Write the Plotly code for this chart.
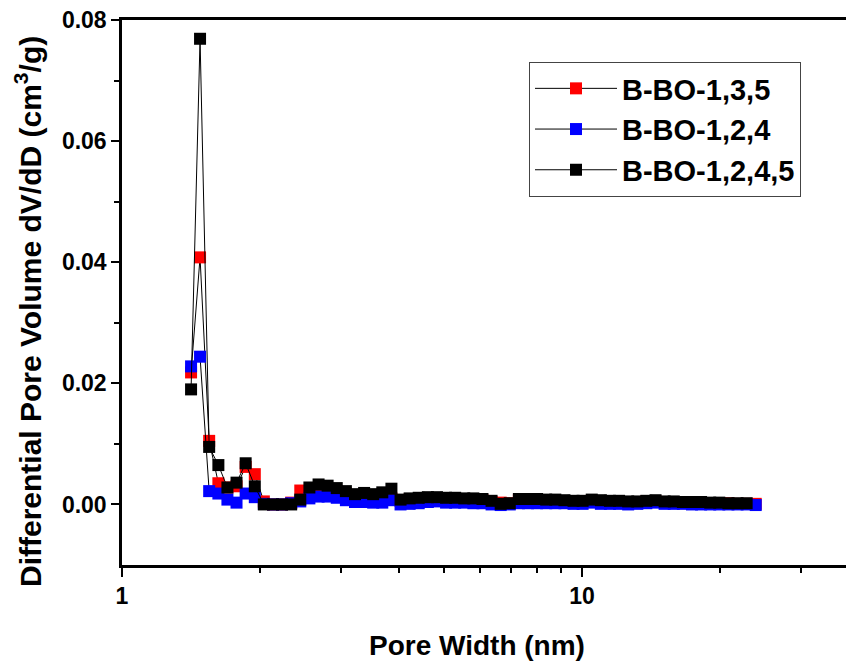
import plotly.graph_objects as go

# Pore width (nm)
pore_width = [1.413, 1.478, 1.547, 1.620, 1.695, 1.774, 1.857, 1.944, 2.034, 2.129,
              2.228, 2.332, 2.441, 2.555, 2.675, 2.799, 2.930, 3.067, 3.210, 3.360,
              3.516, 3.680, 3.852, 4.032, 4.220, 4.416, 4.623, 4.838, 5.064, 5.300,
              5.546, 5.805, 6.076, 6.359, 6.656, 6.966, 7.291, 7.631, 7.987, 8.359,
              8.750, 9.158, 9.585, 10.03, 10.50, 10.99, 11.50, 12.04, 12.60, 13.19,
              13.80, 14.45, 15.12, 15.83, 16.57, 17.34, 18.15, 19.00, 19.88, 20.81,
              21.78, 22.80, 23.86]

bbo_135 = [0.0218, 0.0408, 0.0105, 0.0035, 0.0028, 0.0030, 0.0062, 0.0050, 0.0005, 0.0000,
           0.0000, 0.0003, 0.0023, 0.0020, 0.0025, 0.0025, 0.0022, 0.0018, 0.0014, 0.0015,
           0.0014, 0.0016, 0.0010, 0.0006, 0.0008, 0.0009, 0.0010, 0.0010, 0.0009, 0.0009,
           0.0008, 0.0008, 0.0007, 0.0004, 0.0003, 0.0002, 0.0007, 0.0007, 0.0007, 0.0006,
           0.0006, 0.0005, 0.0005, 0.0005, 0.0006, 0.0005, 0.0005, 0.0004, 0.0004, 0.0004,
           0.0005, 0.0005, 0.0004, 0.0004, 0.0003, 0.0003, 0.0003, 0.0002, 0.0002, 0.0002,
           0.0001, 0.0001, 0.0001]

bbo_124 = [0.0228, 0.0244, 0.0022, 0.0018, 0.0008, 0.0003, 0.0018, 0.0012, 0.0001, 0.0000,
           0.0000, 0.0002, 0.0005, 0.0010, 0.0013, 0.0013, 0.0011, 0.0007, 0.0004, 0.0004,
           0.0003, 0.0003, 0.0007, 0.0000, 0.0001, 0.0002, 0.0004, 0.0005, 0.0003, 0.0003,
           0.0003, 0.0002, 0.0002, 0.0000, -0.0001, 0.0000, 0.0002, 0.0002, 0.0002, 0.0002,
           0.0002, 0.0002, 0.0001, 0.0001, 0.0003, 0.0001, 0.0001, 0.0001, 0.0000, 0.0001,
           0.0002, 0.0003, 0.0001, 0.0001, 0.0001, 0.0000, 0.0000, 0.0000, 0.0000, 0.0000,
           0.0000, 0.0000, -0.0001]

bbo_1245 = [0.0190, 0.0769, 0.0095, 0.0065, 0.0028, 0.0036, 0.0068, 0.0030, 0.0000, 0.0000,
            0.0000, 0.0000, 0.0008, 0.0028, 0.0033, 0.0031, 0.0027, 0.0022, 0.0017, 0.0019,
            0.0017, 0.0020, 0.0026, 0.0008, 0.0010, 0.0011, 0.0012, 0.0012, 0.0011, 0.0011,
            0.0010, 0.0010, 0.0009, 0.0006, 0.0001, 0.0002, 0.0009, 0.0009, 0.0009, 0.0008,
            0.0008, 0.0007, 0.0006, 0.0006, 0.0008, 0.0007, 0.0006, 0.0006, 0.0005, 0.0005,
            0.0006, 0.0007, 0.0005, 0.0005, 0.0004, 0.0004, 0.0004, 0.0003, 0.0003, 0.0002,
            0.0002, 0.0002]

series_names = ["B-BO-1,3,5", "B-BO-1,2,4", "B-BO-1,2,4,5"]
series_colors = ["#ff0000", "#0000ff", "#000000"]
series_values = [bbo_135, bbo_124, bbo_1245]

x_major = [1, 10]
x_major_text = ["1", "10"]
x_minor = [2, 3, 4, 5, 6, 7, 8, 9, 20, 30]
y_major = [0.0, 0.02, 0.04, 0.06, 0.08]
y_minor = [0.01, 0.03, 0.05, 0.07]

FONT = "Liberation Sans, Arial, sans-serif"

fig = go.Figure()
for name, color, vals in zip(series_names, series_colors, series_values):
    fig.add_trace(go.Scatter(
        x=pore_width[:len(vals)], y=vals, name=name, mode="lines+markers",
        line=dict(color="black", width=1),
        marker=dict(symbol="square", size=12, color=color, line=dict(width=0)),
    ))

# The page body adds an 8 px offset; figure is sized so the plot fills the window.
W, H = 846, 654
L, T, R, B = 114, 12, 0, 97
PW, PH = W - L - R, H - T - B

fig.update_layout(
    width=W, height=H,
    margin=dict(l=L, r=R, t=T, b=B),
    paper_bgcolor="white", plot_bgcolor="white",
    font=dict(family=FONT, color="black"),
    showlegend=True,
    legend=dict(
        x=(521 - L) / PW, y=(T + PH - 54) / PH, xref="paper", yref="paper",
        xanchor="left", yanchor="top",
        bordercolor="#444444", borderwidth=1, bgcolor="white",
        font=dict(family=FONT, size=29, color="black", weight="bold"),
        itemwidth=82, tracegroupgap=0,
    ),
    xaxis=dict(
        type="log", range=[0, 732 / 460],
        showgrid=False, zeroline=False,
        showline=True, linecolor="black", linewidth=2.5, mirror=True,
        ticks="outside", ticklen=9, tickwidth=2, tickcolor="black",
        tickvals=x_major, ticktext=x_major_text, ticklabeloverflow="allow",
        tickfont=dict(family=FONT, size=23, color="black", weight="bold"),
        minor=dict(tickvals=x_minor, ticks="outside", ticklen=5, tickwidth=2, tickcolor="black"),
    ),
    yaxis=dict(
        range=[-0.01, 0.08],
        showgrid=False, zeroline=False,
        showline=True, linecolor="black", linewidth=2.5,
        ticks="outside", ticklen=8, tickwidth=2, tickcolor="black",
        tickvals=y_major, tickformat=".2f", ticklabeloverflow="allow",
        tickfont=dict(family=FONT, size=23, color="black", weight="bold"),
        minor=dict(tickvals=y_minor, ticks="outside", ticklen=5, tickwidth=2, tickcolor="black"),
    ),
    annotations=[
        dict(text="Pore Width (nm)", x=(469 - L) / PW, y=(T + PH - 637) / PH,
             xref="paper", yref="paper",
             xanchor="center", yanchor="middle", showarrow=False,
             font=dict(family=FONT, size=28, color="black", weight="bold")),
        dict(text="Differential Pore Volume dV/dD (cm<sup>3</sup>/g)", x=(20 - L) / PW,
             y=(T + PH - 304) / PH,
             xref="paper", yref="paper", xanchor="center", yanchor="middle",
             textangle=-90, showarrow=False,
             font=dict(family=FONT, size=30, color="black", weight="bold")),
    ],
)

fig.write_html("out.html")
